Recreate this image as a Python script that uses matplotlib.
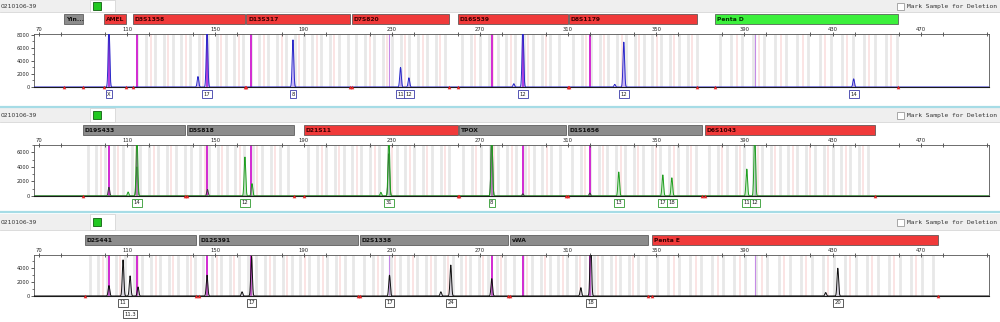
import matplotlib
matplotlib.use('Agg')
import matplotlib.pyplot as plt
import matplotlib.patches as mpatches
import matplotlib.transforms as mtransforms
from matplotlib.ticker import MultipleLocator
import numpy as np

SAMPLE = '0210106-39'
X_MIN, X_MAX = 67.7, 501.0
PEAK_SIGMA = 0.35

BAR_COLORS = {'red': '#f03a3a', 'gray': '#8c8c8c', 'green': '#3cf03c'}
BAR_TEXT = {'red': '#3a0000', 'gray': '#101010', 'green': '#003300'}

# loci: name, start bp, end bp, bar colour, repeat unit (0 = no bins)
LOCI_BLUE = [('Yin...', 81.3, 90.0, 'gray', 0),
             ('AMEL', 99.5, 109.5, 'red', 0),
             ('D3S1358', 112.6, 163.4, 'red', 4),
             ('D13S317', 164.0, 211.0, 'red', 4),
             ('D7S820', 212.0, 255.9, 'red', 4),
             ('D16S539', 260.0, 309.9, 'red', 4),
             ('D8S1179', 310.3, 368.4, 'red', 4),
             ('Penta D', 376.6, 459.6, 'green', 5)]
LOCI_GREEN = [('D19S433', 90.0, 136.2, 'gray', 4),
              ('D5S818', 137.1, 185.6, 'gray', 4),
              ('D21S11', 190.2, 260.0, 'red', 4),
              ('TPOX', 260.4, 309.0, 'gray', 4),
              ('D1S1656', 309.9, 370.7, 'gray', 4),
              ('D6S1043', 372.0, 449.1, 'red', 4)]
LOCI_BLACK = [('D2S441', 90.9, 141.2, 'gray', 4),
              ('D12S391', 142.6, 214.7, 'gray', 4),
              ('D2S1338', 215.6, 282.7, 'gray', 4),
              ('vWA', 283.6, 346.2, 'gray', 4),
              ('Penta E', 348.0, 477.7, 'red', 5)]

# peaks (bp, rfu); heights over the axis limit are off-scale
BLUE_SIZES = [101.7, 142.1, 146.2, 185.2, 234.0, 237.8, 285.4, 289.5, 331.2, 335.3, 439.6]
BLUE_HEIGHTS = [9500, 1600, 9500, 7200, 3000, 1400, 500, 9500, 400, 6850, 1250]
BLUE_CALLS = [(101.7, 'X', 0), (146.2, '17', 0), (185.2, '8', 0), (234.0, '11', 0),
              (237.8, '12', 0), (289.5, '12', 0), (335.3, '12', 0), (439.6, '14', 0)]

GREEN_SIZES = [110.4, 114.4, 163.4, 166.6, 225.1, 228.7, 275.4, 333.0, 353.0, 357.1, 391.1, 394.7]
GREEN_HEIGHTS = [550, 9000, 5350, 1700, 500, 9000, 9000, 3300, 2900, 2500, 3700, 9000]
GREEN_CALLS = [(114.4, '14', 0), (163.4, '12', 0), (228.7, '31', 0), (275.4, '8', 0),
               (333.0, '13', 0), (353.0, '17', 0), (357.1, '18', 0), (391.1, '11', 0),
               (394.7, '12', 0)]
# bleed-through from other dyes seen in the green channel
GREEN_BLEED_SIZES = [101.7, 114.4, 146.4, 228.7, 275.4, 289.5, 319.9]
GREEN_BLEED_HEIGHTS = [1200, 4000, 900, 5800, 9000, 300, 400]

BLACK_SIZES = [101.7, 108.1, 111.3, 114.9, 146.2, 162.1, 166.4, 229.0, 252.3, 256.8,
               275.4, 315.8, 320.3, 426.9, 432.4]
BLACK_HEIGHTS = [1500, 5200, 2900, 1300, 3000, 600, 5700, 3000, 600, 4450,
                 2500, 1200, 9000, 500, 4000]
BLACK_CALLS = [(108.1, '11', 0), (111.3, '11.3', 1), (166.4, '17', 0), (229.0, '17', 0),
               (256.8, '24', 0), (320.3, '18', 0), (432.4, '20', 0)]

# spikes shown in every dye lane: bp, strong?
SPIKES = [(101.7, True), (114.4, True), (146.4, True), (166.1, True), (228.7, False),
          (275.4, True), (289.5, True), (319.9, True), (394.7, False)]

PANELS = [
    dict(loci=LOCI_BLUE, sizes=BLUE_SIZES, heights=BLUE_HEIGHTS, calls=BLUE_CALLS,
         line='#2a28c8', fill='#8a5cf0', box='#3a3aa8', ymax=8100,
         yticks=[0, 2000, 4000, 6000, 8000], top=34, bottom=87, header=(0, 12)),
    dict(loci=LOCI_GREEN, sizes=GREEN_SIZES, heights=GREEN_HEIGHTS, calls=GREEN_CALLS,
         line='#1f9e1f', fill='#8fdc8f', box='#2e9a2e', ymax=7000,
         yticks=[0, 2000, 4000, 6000], top=145, bottom=196, header=(108, 122),
         bleed=(GREEN_BLEED_SIZES, GREEN_BLEED_HEIGHTS)),
    dict(loci=LOCI_BLACK, sizes=BLACK_SIZES, heights=BLACK_HEIGHTS, calls=BLACK_CALLS,
         line='#111111', fill='#a8a0b8', box='#404040', ymax=5900,
         yticks=[0, 2000, 4000], top=255, bottom=296, header=(214, 230)),
]

W, H = 1000, 322
LEFT, RIGHT = 34, 989


def trace(xs, sizes, heights):
    ys = np.zeros_like(xs)
    for s, h in zip(sizes, heights):
        ys += h * np.exp(-0.5 * ((xs - s) / PEAK_SIGMA) ** 2)
    return ys


fig = plt.figure(figsize=(10, 3.22), dpi=100)
bg = fig.add_axes([0, 0, 1, 1], zorder=-1)
bg.set_xlim(0, W)
bg.set_ylim(H, 0)
bg.axis('off')

# cyan separators between the dye lanes
for ys in [107, 212]:
    bg.plot([0, W], [ys, ys], color='#a6dce6', lw=1.6, solid_capstyle='butt')

xs = np.linspace(X_MIN, X_MAX, 8000)

for p in PANELS:
    h0, h1 = p['header']
    hc = (h0 + h1) / 2
    bg.add_patch(mpatches.Rectangle((0, h0), W, h1 - h0, fc='#efefef', ec='none'))
    bg.plot([0, W], [h1, h1], color='#d6d6d6', lw=0.6)
    bg.add_patch(mpatches.Rectangle((90, h0), 25, h1 - h0, fc='white', ec='#d0d0d0', lw=0.5))
    bg.add_patch(mpatches.Rectangle((93, hc - 4), 8, 8, fc='#22c822', ec='#0f5f0f', lw=0.6))
    bg.text(1, hc, SAMPLE, fontsize=4.3, color='#333333', va='center', ha='left')
    bg.add_patch(mpatches.Rectangle((897, hc - 3.5), 7, 7, fc='white', ec='#9a9a9a', lw=0.6))
    bg.text(907, hc, 'Mark Sample for Deletion', family='DejaVu Sans Mono',
            fontsize=4.5, color='#333333', va='center', ha='left')

    ax = fig.add_axes([LEFT / W, 1 - p['bottom'] / H,
                       (RIGHT - LEFT) / W, (p['bottom'] - p['top']) / H])
    ax.set_xlim(X_MIN, X_MAX)
    ax.set_ylim(0, p['ymax'])

    # bins of the allelic ladder
    for name, start, end, col, rep in p['loci']:
        if rep == 0:
            continue
        gray = np.arange(start + rep / 2, end, rep)
        pink = gray[1:-1:2] + rep / 2
        ax.vlines(gray, 0, p['ymax'], color='#e8e8e8', lw=2.0, zorder=0)
        ax.vlines(pink, 0, p['ymax'], color='#fbe4e4', lw=1.4, zorder=0)

    for bp, strong in SPIKES:
        if strong:
            ax.axvline(bp, color='#d22ad2', lw=1.4, zorder=1)
        else:
            ax.axvline(bp, color='#c58ae6', lw=0.8, zorder=1)

    if 'bleed' in p:
        yb = trace(xs, *p['bleed'])
        ax.plot(xs, yb, color='#3a3a3a', lw=0.7, zorder=2)

    ys = trace(xs, p['sizes'], p['heights'])
    ax.fill_between(xs, 0, ys, color=p['fill'], alpha=0.45, lw=0, zorder=2)
    ax.plot(xs, ys, color=p['line'], lw=0.7, zorder=3)

    # locus bars above the lane and their boundary marks on the baseline
    tr = mtransforms.blended_transform_factory(ax.transData, bg.transData)
    bounds = []
    for name, start, end, col, rep in p['loci']:
        ax.add_patch(mpatches.Rectangle((start, p['top'] - 20), end - start, 10,
                                        fc=BAR_COLORS[col], ec='#4a4a4a', lw=0.5,
                                        transform=tr, clip_on=False))
        ax.text(start + 0.8, p['top'] - 15, name, transform=tr, fontsize=4.3,
                fontweight='bold', color=BAR_TEXT[col], va='center', ha='left',
                clip_on=False)
        bounds += [start, end]
    ax.plot(bounds, np.zeros(len(bounds)), '^', color='#e62626', ms=2.6,
            mec='none', clip_on=False, zorder=4)

    for bp, lab, row in p['calls']:
        ax.annotate(lab, xy=(bp, 0), xytext=(0, -7 - 11 * row), textcoords='offset pixels',
                    ha='center', va='center', fontsize=3.8, color='#202020',
                    annotation_clip=False,
                    bbox=dict(boxstyle='square,pad=0.3', fc='white', ec=p['box'], lw=0.6))

    ax.xaxis.tick_top()
    ax.set_xticks(np.arange(70, 500, 40))
    ax.xaxis.set_minor_locator(MultipleLocator(20))
    ax.tick_params(axis='x', which='both', direction='inout', length=2.5, width=0.6,
                   labelsize=3.8, pad=0.5, colors='#404040', labelcolor='#222222')
    ax.set_yticks(p['yticks'])
    ax.yaxis.set_minor_locator(MultipleLocator(1000))
    ax.tick_params(axis='y', which='major', length=2, width=0.6, labelsize=3.6,
                   pad=1, colors='#404040', labelcolor='#222222')
    ax.tick_params(axis='y', which='minor', length=1.2, width=0.5, colors='#404040')
    for side in ['top', 'right', 'left']:
        ax.spines[side].set_color('#555555')
        ax.spines[side].set_linewidth(0.6)
    ax.spines['bottom'].set_color('#1a1a1a')
    ax.spines['bottom'].set_linewidth(0.8)

fig.savefig('out.png', dpi=100)
